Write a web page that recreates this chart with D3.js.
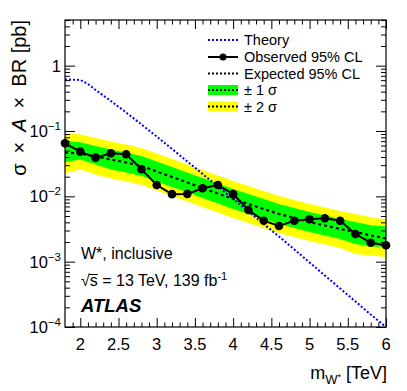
<!DOCTYPE html>
<html><head><meta charset="utf-8">
<script src="https://cdn.jsdelivr.net/npm/d3@7"></script>
<style>body{margin:0;background:#fff} svg{display:block} text{font-family:"Liberation Sans",Arial,Helvetica,sans-serif;fill:#000}</style>
</head><body><svg id="c" width="407" height="391"></svg>
<script>
const mass = [1.8,2.0,2.2,2.4,2.6,2.8,3.0,3.2,3.4,3.6,3.8,4.0,4.2,4.4,4.6,4.8,5.0,5.2,5.4,5.6,5.8,6.0];
const observed = [0.0649,0.0483,0.0391,0.0456,0.0441,0.0260,0.0149,0.0108,0.0109,0.0133,0.0149,0.0108,0.00618,0.00424,0.00352,0.00424,0.00446,0.00461,0.00424,0.00265,0.00195,0.00178];
const expected = [0.0469,0.0453,0.0407,0.0367,0.0330,0.0292,0.0240,0.0198,0.0163,0.0134,0.01106,0.00911,0.00764,0.00640,0.00537,0.00466,0.00405,0.00358,0.00317,0.00285,0.00252,0.00226];
const band1Hi = [0.0704,0.0672,0.0589,0.0522,0.0469,0.0415,0.0341,0.0282,0.0232,0.0191,0.0157,0.0130,0.0109,0.00910,0.00764,0.00663,0.00576,0.00509,0.00451,0.00405,0.00361,0.00345];
const band1Lo = [0.0332,0.0366,0.0307,0.0258,0.0232,0.0205,0.0169,0.0139,0.0115,0.00942,0.00778,0.00640,0.00537,0.00450,0.00378,0.00328,0.00285,0.00252,0.00223,0.00187,0.00171,0.00167];
const band2Hi = [0.0923,0.0891,0.0781,0.0693,0.0623,0.0551,0.0453,0.0374,0.0308,0.0253,0.0209,0.0172,0.0144,0.0121,0.0101,0.00879,0.00764,0.00676,0.00598,0.00538,0.00479,0.00441];
const band2Lo = [0.0225,0.0258,0.0216,0.0188,0.0169,0.0150,0.0123,0.0101,0.00835,0.00686,0.00566,0.00466,0.00391,0.00328,0.00275,0.00239,0.00207,0.00183,0.00162,0.00131,0.00124,0.00118];
const theoryMass = [1.8,2.0,2.1,2.2,2.4,2.6,2.8,3.0,3.2,3.4,3.6,3.8,4.0,4.2,4.4,4.6,4.8,5.0,5.2,5.4,5.6,5.8,6.0];
const theory = [0.615,0.604,0.525,0.425,0.288,0.192,0.126,0.0825,0.0531,0.0342,0.0220,0.01416,0.00911,0.00587,0.00377,0.00243,0.00154,0.000972,0.000615,0.000389,0.000246,0.000155,0.0001];
const xMajor = [2,2.5,3,3.5,4,4.5,5,5.5,6];
const xMajorLabels = ["2","2.5","3","3.5","4","4.5","5","5.5","6"];
const yMajor = [1e-4,1e-3,1e-2,1e-1,1];
const yMajorExp = ["−4","−3","−2","−1",""];
const legendLabels = ["Theory","Observed 95% CL","Expected 95% CL","± 1 σ","± 2 σ"];

const L=65, R=386, T=20, B=327;
const svg = d3.select("#c");
const x = d3.scaleLinear().domain([1.8,6]).range([L,R]);
const y = d3.scaleLog().domain([1e-4,5]).range([B,T]);

const xMinor = d3.range(19,61).map(d=>d/10).filter(v=>Math.abs(v*2-Math.round(v*2))>1e-6);
const yMinor = [];
for (let e=-4;e<=0;e++) for (let k=2;k<=9;k++){const v=k*Math.pow(10,e); if(v<=5) yMinor.push(v);}

svg.append("clipPath").attr("id","clip").append("rect").attr("x",L).attr("y",T).attr("width",R-L).attr("height",B-T);
const g = svg.append("g").attr("clip-path","url(#clip)");

const idx = d3.range(mass.length);
const area = (lo,hi)=>d3.area().x(i=>x(mass[i])).y0(i=>y(lo[i])).y1(i=>y(hi[i]))(idx);
g.append("path").attr("d",area(band2Lo,band2Hi)).attr("fill","#ffff00");
g.append("path").attr("d",area(band1Lo,band1Hi)).attr("fill","#00ff00");

const line = d3.line().x(d=>x(d[0])).y(d=>y(d[1]));
g.append("path").attr("d",line(mass.map((m,i)=>[m,expected[i]]))).attr("fill","none").attr("stroke","#000").attr("stroke-width",2.2).attr("stroke-dasharray","3,3");
g.append("path").attr("d",line(theoryMass.map((m,i)=>[m,theory[i]]))).attr("fill","none").attr("stroke","#0000ff").attr("stroke-width",2).attr("stroke-dasharray","2,2");
g.append("path").attr("d",line(mass.map((m,i)=>[m,observed[i]]))).attr("fill","none").attr("stroke","#000").attr("stroke-width",2);
svg.append("g").selectAll("circle").data(idx).join("circle").attr("cx",i=>x(mass[i])).attr("cy",i=>y(observed[i])).attr("r",4.3).attr("fill","#000");

function ax(axisFn, scale, vals, size, tr){
  const a = svg.append("g").attr("transform",tr).call(axisFn(scale).tickValues(vals).tickSize(-size).tickFormat(""));
  a.select(".domain").remove();
  a.selectAll("line").attr("stroke","#000").attr("stroke-width",1);
}
ax(d3.axisBottom,x,xMajor,9,`translate(0,${B})`);
ax(d3.axisBottom,x,xMinor,4.5,`translate(0,${B})`);
ax(d3.axisTop,x,xMajor,9,`translate(0,${T})`);
ax(d3.axisTop,x,xMinor,4.5,`translate(0,${T})`);
ax(d3.axisLeft,y,yMajor,10,`translate(${L},0)`);
ax(d3.axisLeft,y,yMinor,5,`translate(${L},0)`);
ax(d3.axisRight,y,yMajor,10,`translate(${R},0)`);
ax(d3.axisRight,y,yMinor,5,`translate(${R},0)`);
svg.append("rect").attr("x",L).attr("y",T).attr("width",R-L).attr("height",B-T).attr("fill","none").attr("stroke","#000").attr("stroke-width",1.2);

svg.append("g").selectAll("text").data(xMajor).join("text").attr("x",d=>x(d)).attr("y",350).attr("text-anchor","middle").attr("font-size",16.5).text((d,i)=>xMajorLabels[i]);
yMajor.forEach((v,i)=>{
  const t = svg.append("text").attr("x",61).attr("y",y(v)+6).attr("text-anchor","end").attr("font-size",16.5);
  if (yMajorExp[i]===""){ t.text("1"); }
  else { t.append("tspan").text("10"); t.append("tspan").attr("dy",-7).attr("font-size",11.5).text(yMajorExp[i]); }
});
const yt = svg.append("text").attr("transform","translate(26,20) rotate(-90)").attr("text-anchor","end").attr("font-size",20);
yt.append("tspan").text("σ");
yt.append("tspan").attr("dx",10).text("×");
yt.append("tspan").attr("dx",10).attr("font-style","italic").text("A");
yt.append("tspan").attr("dx",10).text("×");
yt.append("tspan").attr("dx",10).text("BR [pb]");
const xt = svg.append("text").attr("x",387).attr("y",379).attr("text-anchor","end").attr("font-size",18);
xt.append("tspan").text("m");
xt.append("tspan").attr("dy",5).attr("font-size",13).text("W");
xt.append("tspan").attr("dy",-4).attr("font-size",9).text("*");
xt.append("tspan").attr("dy",-1).text(" [TeV]");

const ly=[40,57,73.5,90,106.5], lx0=208, lx1=238;
const lg = svg.append("g");
lg.append("line").attr("x1",lx0).attr("x2",lx1).attr("y1",ly[0]).attr("y2",ly[0]).attr("stroke","#0000ff").attr("stroke-width",2).attr("stroke-dasharray","2,2");
lg.append("line").attr("x1",lx0).attr("x2",lx1).attr("y1",ly[1]).attr("y2",ly[1]).attr("stroke","#000").attr("stroke-width",2);
lg.append("circle").attr("cx",(lx0+lx1)/2).attr("cy",ly[1]).attr("r",3.5);
lg.append("line").attr("x1",lx0).attr("x2",lx1).attr("y1",ly[2]).attr("y2",ly[2]).attr("stroke","#000").attr("stroke-width",2).attr("stroke-dasharray","2,2");
[["#00ff00",3],["#ffff00",4]].forEach(([c,i])=>{
  lg.append("rect").attr("x",lx0).attr("y",ly[i]-5).attr("width",lx1-lx0).attr("height",10).attr("fill",c);
  lg.append("line").attr("x1",lx0).attr("x2",lx1).attr("y1",ly[i]).attr("y2",ly[i]).attr("stroke","#000").attr("stroke-width",2).attr("stroke-dasharray","2,2");
});
lg.selectAll("text").data(legendLabels).join("text").attr("x",244).attr("y",(d,i)=>ly[i]+5).attr("font-size",14.5).text(d=>d);

svg.append("text").attr("x",81).attr("y",259).attr("font-size",16).text("W*, inclusive");
const s = svg.append("text").attr("x",81).attr("y",286).attr("font-size",16);
s.append("tspan").text("√s = 13 TeV, 139 fb");
s.append("tspan").attr("dy",-6).attr("font-size",11).text("-1");
try {
  const n = s.node(), b0 = n.getExtentOfChar(0), b1 = n.getExtentOfChar(1);
  svg.append("line").attr("x1",b0.x+b0.width-1).attr("x2",b1.x+b1.width).attr("y1",b0.y+2.5).attr("y2",b0.y+2.5).attr("stroke","#000").attr("stroke-width",1);
} catch(e) {}
svg.append("text").attr("x",81).attr("y",312).attr("font-size",18.5).attr("font-weight","bold").attr("font-style","italic").text("ATLAS");
</script></body></html>
